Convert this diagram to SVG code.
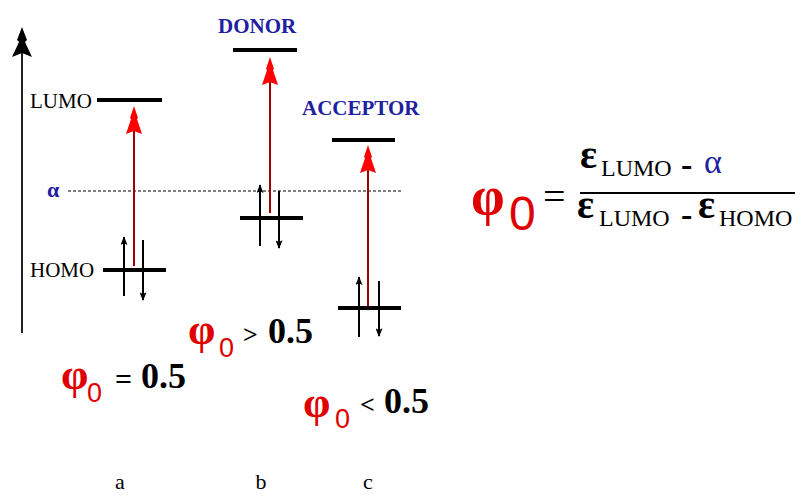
<svg xmlns="http://www.w3.org/2000/svg" width="801" height="496" viewBox="0 0 801 496">
<style>
.lvl{stroke:#000;stroke-width:4;fill:none}
.spin{stroke:#000;stroke-width:2;fill:none}
.exc{stroke:#a00000;stroke-width:2;fill:none}
.lbl{font-family:"Liberation Serif",serif;font-size:21px;fill:#000}
.blue{font-family:"Liberation Serif",serif;font-weight:bold;fill:#2020a0}
.phi{font-family:"Liberation Serif",serif;font-weight:bold;fill:#e00000}
.sub{font-family:"Liberation Sans",sans-serif;fill:#e00000}
.num{font-family:"Liberation Serif",serif;font-weight:bold;fill:#000}
.reg{font-family:"Liberation Serif",serif;fill:#000}
.ab{font-family:"Liberation Serif",serif;font-size:22px;fill:#000}
</style>
<defs>
<marker id="tip" viewBox="0 0 10 8" refX="9" refY="4" markerWidth="10" markerHeight="7" markerUnits="userSpaceOnUse" orient="auto">
<path d="M10 4 L0 0 L2 4 L0 8 Z" fill="#000"/>
</marker>
<path id="redhead" d="M0 0 L4 12 L3 13 L8 28 L0 25 L-8 28 L-3 13 L-4 12 Z" fill="#ff0000"/>
</defs>
<g id="axis">
<line x1="22" y1="50" x2="22" y2="333" stroke="#222" stroke-width="2"/>
<path d="M22 27 L27 40 L25 42 L32 57 L22 53 L12 57 L19 42 L17 40 Z" fill="#000"/>
</g>
<g id="alpha-line">
<text x="47" y="197" class="blue" font-size="22">α</text>
<line x1="68" y1="191" x2="402" y2="191" stroke="#000" stroke-width="1" stroke-dasharray="3,2"/>
</g>
<g id="connectors">
<line class="exc" x1="134" y1="266" x2="134" y2="125"/>
<use href="#redhead" x="134" y="106"/>
<line class="exc" x1="270" y1="213" x2="270" y2="75"/>
<use href="#redhead" x="270" y="57"/>
<line class="exc" x1="368" y1="306" x2="368" y2="165"/>
<use href="#redhead" x="368" y="145"/>
</g>
<g id="a">
<text x="30" y="108" class="lbl">LUMO</text>
<line class="lvl" x1="97" y1="100" x2="162" y2="100"/>
<text x="30" y="277" class="lbl">HOMO</text>
<line class="lvl" x1="103" y1="270" x2="166" y2="270"/>
<line class="spin" x1="124" y1="296" x2="124" y2="237" marker-end="url(#tip)"/>
<line class="spin" x1="143" y1="240" x2="143" y2="300" marker-end="url(#tip)"/>
</g>
<g id="b">
<text x="218" y="33" class="blue" font-size="21">DONOR</text>
<line class="lvl" x1="233" y1="50" x2="297" y2="50" stroke-width="3"/>
<line class="lvl" x1="240" y1="218" x2="303" y2="218"/>
<line class="spin" x1="260" y1="246" x2="260" y2="185" marker-end="url(#tip)"/>
<line class="spin" x1="279" y1="191" x2="279" y2="248" marker-end="url(#tip)"/>
</g>
<g id="c">
<text x="302" y="115" class="blue" font-size="21">ACCEPTOR</text>
<line class="lvl" x1="332" y1="140" x2="395" y2="140" stroke-width="3"/>
<line class="lvl" x1="338" y1="308" x2="401" y2="308"/>
<line class="spin" x1="359" y1="337" x2="359" y2="277" marker-end="url(#tip)"/>
<line class="spin" x1="379" y1="281" x2="379" y2="336" marker-end="url(#tip)"/>
</g>
<g id="formula">
<text x="471" y="214" class="phi" font-size="54">φ</text>
<text x="509" y="230" class="sub" font-size="48">0</text>
<text x="543" y="210" class="reg" font-size="40">=</text>
<text x="580" y="168" class="num" font-size="40">ε</text>
<text x="601" y="176" class="reg" font-size="24">LUMO</text>
<text x="681" y="176" class="num" font-size="34">-</text>
<text x="704" y="173" font-family="Liberation Serif,serif" font-size="34" fill="#2020a0">α</text>
<line x1="580" y1="193" x2="795" y2="193" stroke="#000" stroke-width="2"/>
<text x="577" y="218" class="num" font-size="40">ε</text>
<text x="599" y="226" class="reg" font-size="24">LUMO</text>
<text x="681" y="226" class="num" font-size="34">-</text>
<text x="698" y="218" class="num" font-size="40">ε</text>
<text x="719" y="226" class="reg" font-size="24">HOMO</text>
</g>
<g id="phi-a">
<text x="61" y="389" class="phi" font-size="44">φ</text>
<text x="87" y="402" class="sub" font-size="27">0</text>
<text x="115" y="389" class="num" font-size="30">=</text>
<text x="141" y="388" class="num" font-size="36">0.5</text>
</g>
<g id="phi-b">
<text x="188" y="344" class="phi" font-size="44">φ</text>
<text x="219" y="357" class="sub" font-size="27">0</text>
<text x="243" y="343" class="num" font-size="26">&gt;</text>
<text x="268" y="343" class="num" font-size="36">0.5</text>
</g>
<g id="phi-c">
<text x="303" y="417" class="phi" font-size="44">φ</text>
<text x="335" y="428" class="sub" font-size="27">0</text>
<text x="360" y="413" class="num" font-size="26">&lt;</text>
<text x="384" y="413" class="num" font-size="36">0.5</text>
</g>
<g id="labels">
<text x="120" y="489" class="ab" text-anchor="middle">a</text>
<text x="261" y="489" class="ab" text-anchor="middle">b</text>
<text x="368" y="489" class="ab" text-anchor="middle">c</text>
</g>
</svg>
